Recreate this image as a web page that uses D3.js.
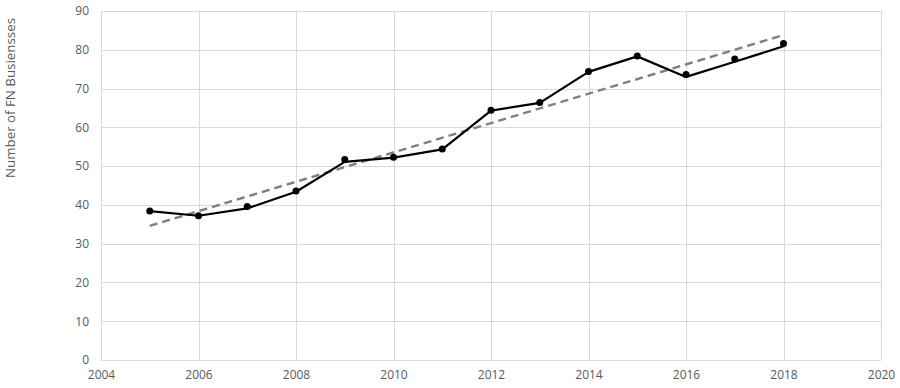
<!DOCTYPE html>
<html>
<head>
<meta charset="utf-8">
<script src="https://cdn.jsdelivr.net/npm/d3@7"></script>
<style>
  body { margin: 0; background: white; }
  svg { display: block; }
  .tick text { font-family: "Open Sans", "Liberation Sans", sans-serif; font-size: 12px; fill: #595959; }
</style>
</head>
<body>
<div id="chart"></div>
<script>
// data
const years = [2005, 2006, 2007, 2008, 2009, 2010, 2011, 2012, 2013, 2014, 2015, 2016, 2017, 2018];
const marker_values = [38.4, 37.2, 39.6, 43.6, 51.7, 52.3, 54.4, 64.4, 66.4, 74.4, 78.4, 73.6, 77.6, 81.6];
const line_values = [38.4, 37.2, 39.1, 43.4, 51.1, 52.2, 54.3, 64.3, 66.3, 74.3, 78.3, 73.0, 76.9, 80.9];
const trend_years = [2005, 2018];
const trend_values = [34.6, 83.8];
const x_ticks = [2004, 2006, 2008, 2010, 2012, 2014, 2016, 2018, 2020];
const y_ticks = [0, 10, 20, 30, 40, 50, 60, 70, 80, 90];
const ytitle = "Number of FN Busiensses";

const ttl_width = 900, ttl_height = 388;
const margin = {top: 11, right: 19, bottom: 28, left: 101};
const width = ttl_width - margin.left - margin.right;
const height = ttl_height - margin.top - margin.bottom;

const svg = d3.select("#chart")
  .append("svg")
  .attr("width", ttl_width)
  .attr("height", ttl_height);

svg.append("text")
  .attr("transform", "translate(15,98) rotate(-90)")
  .attr("text-anchor", "middle")
  .attr("font-family", "'Open Sans', 'Liberation Sans', sans-serif")
  .attr("font-size", 13)
  .attr("textLength", 160)
  .attr("lengthAdjust", "spacingAndGlyphs")
  .attr("fill", "#595959")
  .text(ytitle);

const g = svg.append("g")
  .attr("transform", "translate(" + margin.left + "," + margin.top + ")");

const x = d3.scaleLinear().domain([2004, 2020]).range([0, width]);
const y = d3.scaleLinear().domain([0, 90]).range([height, 0]);

// gridlines
g.append("g")
  .selectAll("line.h")
  .data(y_ticks)
  .enter()
  .append("line")
  .attr("x1", 0).attr("x2", width)
  .attr("y1", d => Math.round(y(d)) + 0.5)
  .attr("y2", d => Math.round(y(d)) + 0.5)
  .attr("stroke", "#d9d9d9");

g.append("g")
  .selectAll("line.v")
  .data(x_ticks)
  .enter()
  .append("line")
  .attr("y1", 0).attr("y2", height)
  .attr("x1", d => Math.round(x(d)) + 0.5)
  .attr("x2", d => Math.round(x(d)) + 0.5)
  .attr("stroke", "#d9d9d9");

// axes (labels only)
const xaxis = g.append("g")
  .attr("transform", "translate(0," + height + ")")
  .call(d3.axisBottom(x).tickValues(x_ticks).tickFormat(d3.format("d")).tickSize(0).tickPadding(10));
xaxis.select(".domain").remove();

const yaxis = g.append("g")
  .call(d3.axisLeft(y).tickValues(y_ticks).tickSize(0).tickPadding(12));
yaxis.select(".domain").remove();

// trend line
g.append("path")
  .datum(trend_years.map((d, i) => [d, trend_values[i]]))
  .attr("fill", "none")
  .attr("stroke", "#808080")
  .attr("stroke-width", 2.5)
  .attr("stroke-dasharray", "8,5")
  .attr("d", d3.line().x(d => x(d[0])).y(d => y(d[1])));

// data line
g.append("path")
  .datum(years.map((d, i) => [d, line_values[i]]))
  .attr("fill", "none")
  .attr("stroke", "black")
  .attr("stroke-width", 2.2)
  .attr("stroke-linejoin", "round")
  .attr("d", d3.line().x(d => x(d[0])).y(d => y(d[1])));

g.selectAll("circle")
  .data(years.map((d, i) => [d, marker_values[i]]))
  .enter()
  .append("circle")
  .attr("cx", d => x(d[0]))
  .attr("cy", d => y(d[1]))
  .attr("r", 3.5)
  .attr("fill", "black");
</script>
</body>
</html>
